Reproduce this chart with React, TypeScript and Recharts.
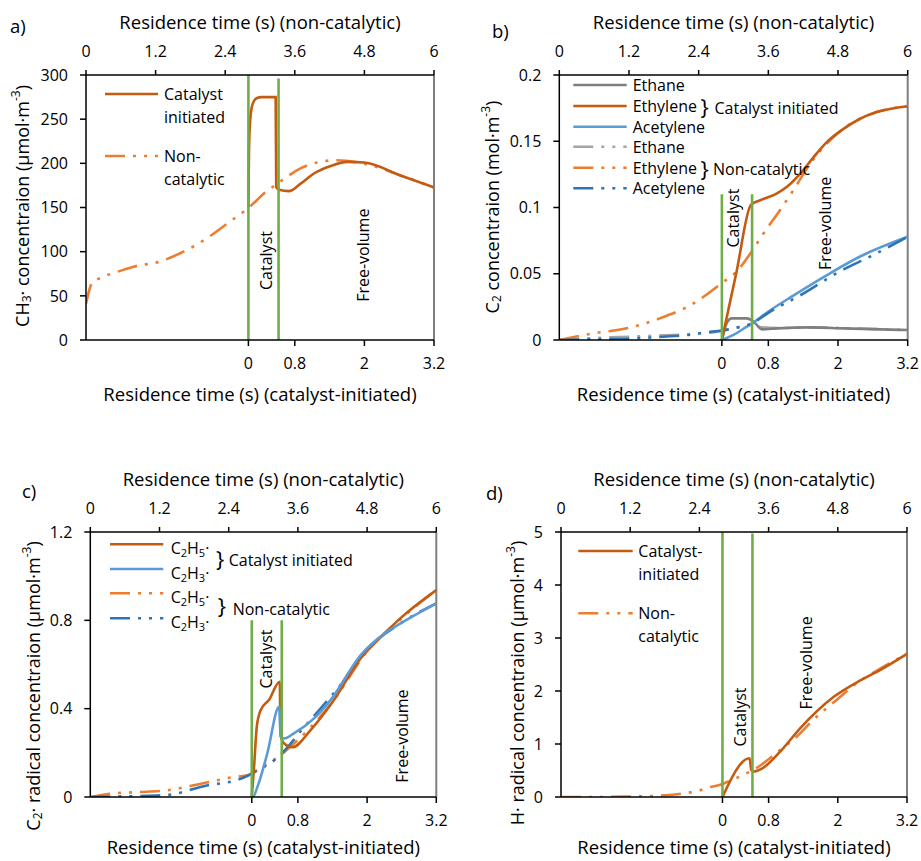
import React from 'react';
import { LineChart, Line, XAxis, YAxis, Legend, ReferenceLine, ReferenceDot } from 'recharts';

const FONT = '"Open Sans", "DejaVu Sans", sans-serif';
const C_CAT = '#C55A11';
const C_NON = '#ED7D31';
const C_BLUE_CAT = '#5B9BD5';
const C_BLUE_NON = '#2E75B6';
const C_GRAY_CAT = '#7F7F7F';
const C_GRAY_NON = '#A5A5A5';
const C_GREEN = '#70AD47';
const DASH = '20 8 3 8 3 8';

// ---- shared axes ----
const topTicks = [0, 1.2, 2.4, 3.6, 4.8, 6];
const topDomain = [0, 6];
const bottomTicks = [0, 0.8, 2, 3.2];
const bottomDomain = [-2.8, 3.2];
const catalystBounds = [0, 0.52];

// ---- panel a: CH3 ----
const aNonT = [0, 0.05, 0.1, 0.3, 0.53, 0.82, 1.28, 1.68, 2.08, 2.48, 2.79, 3.11, 3.34, 3.69, 4.03, 4.32, 4.84, 5.41, 6];
const aNonCH3 = [41, 55, 64, 71.6, 77, 83, 89, 100, 115, 134, 149, 168, 179, 194, 201.6, 203.5, 199, 186.6, 172.7];
const aCatT = [0, 0.01, 0.03, 0.06, 0.1, 0.15, 0.22, 0.47, 0.48, 0.53, 0.7, 0.9, 1.13, 1.42, 1.71, 2.0, 2.61, 3.2];
const aCatCH3 = [150, 215, 248, 264, 271, 274, 275, 275, 173, 170, 168.5, 177, 188.5, 197, 201.6, 201, 186.6, 172.7];
const aYTicks = [0, 50, 100, 150, 200, 250, 300];

// ---- panel b: C2 species ----
const bNonEthaneT = [0, 0.6, 1.2, 1.8, 2.4, 2.8, 3.05, 3.3, 3.5, 3.8, 4.4, 5, 6];
const bNonEthane = [0, 0.0015, 0.0025, 0.0035, 0.0048, 0.0068, 0.0095, 0.0115, 0.0095, 0.009, 0.0095, 0.0088, 0.0075];
const bNonEthyleneT = [0, 0.585, 1.16, 1.73, 2.31, 2.8, 3.05, 3.31, 3.51, 3.8, 4.03, 4.32, 4.6, 4.89, 5.18, 5.46, 6];
const bNonEthylene = [0, 0.005, 0.0088, 0.0163, 0.0276, 0.043, 0.0515, 0.0666, 0.08, 0.098, 0.113, 0.133, 0.148, 0.1595, 0.167, 0.172, 0.1764];
const bNonAcetyleneT = [0, 0.6, 1.2, 1.8, 2.2, 2.53, 2.8, 3.05, 3.32, 3.6, 4.2, 4.8, 5.4, 6];
const bNonAcetylene = [0, 0.0005, 0.001, 0.0025, 0.0038, 0.0058, 0.0072, 0.0092, 0.0126, 0.0205, 0.035, 0.051, 0.064, 0.0779];
const bCatEthaneT = [0, 0.086, 0.17, 0.43, 0.55, 0.69, 0.95, 1.52, 2.1, 3.2];
const bCatEthane = [0, 0.013, 0.0163, 0.0163, 0.0138, 0.008, 0.0088, 0.0095, 0.0088, 0.0075];
const bCatEthyleneT = [0, 0.25, 0.5, 0.66, 0.95, 1.12, 1.35, 1.58, 1.81, 2.1, 2.38, 2.67, 3.2];
const bCatEthylene = [0, 0.051, 0.102, 0.1055, 0.1106, 0.1156, 0.1256, 0.138, 0.1495, 0.1595, 0.167, 0.172, 0.1764];
const bCatAcetyleneT = [0, 0.2, 0.37, 0.52, 0.77, 1.23, 1.81, 2.38, 3.2];
const bCatAcetylene = [0, 0.0038, 0.0085, 0.0126, 0.0206, 0.0335, 0.049, 0.063, 0.0779];
const bYTicks = [0, 0.05, 0.1, 0.15, 0.2];

// ---- panel c: C2 radicals ----
const cNonC2H5T = [0, 0.34, 0.8, 1.32, 2.02, 2.48, 2.74, 3.0, 3.3, 3.5, 3.8, 4.2, 4.8, 5.4, 6];
const cNonC2H5 = [0, 0.015, 0.022, 0.03, 0.066, 0.09, 0.1, 0.14, 0.19, 0.235, 0.31, 0.43, 0.66, 0.81, 0.937];
const cNonC2H3T = [0, 0.6, 1.32, 2.02, 2.54, 2.72, 2.91, 3.23, 3.38, 3.5, 3.64, 3.87, 4.5, 4.8, 5.38, 6];
const cNonC2H3 = [0, 0.003, 0.009, 0.052, 0.077, 0.095, 0.122, 0.175, 0.213, 0.25, 0.296, 0.364, 0.56, 0.666, 0.786, 0.877];
const cCatC2H5T = [0, 0.04, 0.087, 0.156, 0.3, 0.485, 0.5, 0.56, 0.705, 1.02, 1.4, 1.89, 2.3, 2.58, 3.2];
const cCatC2H5 = [0, 0.137, 0.318, 0.394, 0.44, 0.522, 0.28, 0.243, 0.225, 0.303, 0.43, 0.628, 0.74, 0.81, 0.937];
const cCatC2H3T = [0, 0.02, 0.1, 0.27, 0.475, 0.5, 0.56, 0.73, 1.08, 1.37, 1.89, 2.3, 2.58, 3.2];
const cCatC2H3 = [0, 0, 0.047, 0.198, 0.409, 0.273, 0.265, 0.288, 0.356, 0.44, 0.643, 0.74, 0.786, 0.877];
const cYTicks = [0, 0.4, 0.8, 1.2];

// ---- panel d: H radical ----
const dNonT = [0, 0.6, 1.2, 1.8, 2.2, 2.4, 2.55, 2.76, 2.96, 3.16, 3.45, 3.62, 3.8, 4.09, 4.37, 4.81, 5.13, 5.5, 6];
const dNonH = [0, 0, 0.01, 0.03, 0.08, 0.12, 0.18, 0.23, 0.32, 0.415, 0.59, 0.73, 0.887, 1.14, 1.45, 1.86, 2.15, 2.4, 2.7];
const dCatT = [0, 0.47, 0.5, 0.54, 0.69, 1.0, 1.35, 1.93, 2.39, 2.74, 3.2];
const dCatH = [0, 0.73, 0.51, 0.48, 0.54, 0.855, 1.3, 1.89, 2.2, 2.4, 2.7];
const dYTicks = [0, 1, 2, 3, 4, 5];

const zip = (xs: number[], ys: number[]) => xs.map((x, i) => ({ x, y: ys[i] }));

type Seg = { t: string; sub?: boolean; sup?: boolean };
type SeriesDef = { key: string; axis: 'top' | 'bottom'; xs: number[]; ys: number[]; color: string; dashed: boolean };
type LegendRow = { y: number; color: string; dashed: boolean; lines: Seg[][]; textDy?: number };
type PanelDef = {
  id: string;
  tag: string;
  tagPos: [number, number];
  quad: { x: number; y: number; w: number; h: number };
  plot: { x1: number; y1: number; x2: number; y2: number };
  bottomTitleGap: number;
  yDomain: number[];
  yTicks: number[];
  yTitle: Seg[];
  yTitlePos: [number, number];
  series: SeriesDef[];
  greenTops: number[];
  annotations: { text: string; x: number; y: number }[];
  legendRows: LegendRow[];
  sampleX: [number, number];
  textX: number;
  braces: { x: number; y: number; textX: number; textY: number; text: string }[];
};

const renderSegs = (segs: Seg[], small = 12) => {
  const out: React.ReactNode[] = [];
  let shift = 0;
  segs.forEach((s, i) => {
    const target = s.sub ? 4 : s.sup ? -7 : 0;
    const dy = target - shift;
    shift = target;
    out.push(
      <tspan key={i} dy={dy} fontSize={s.sub || s.sup ? small : undefined}>
        {s.t}
      </tspan>
    );
  });
  return out;
};

const panels: PanelDef[] = [
  {
    id: 'a',
    tag: 'a)',
    tagPos: [10, 33],
    quad: { x: 0, y: 0, w: 460, h: 420 },
    plot: { x1: 86, y1: 75, x2: 434, y2: 340 },
    bottomTitleGap: 61,
    yDomain: [0, 300],
    yTicks: aYTicks,
    yTitle: [{ t: 'CH' }, { t: '3', sub: true }, { t: '· concentraion (µmol·m' }, { t: '-3', sup: true }, { t: ')' }],
    yTitlePos: [22, 206],
    series: [
      { key: 'aNon', axis: 'top', xs: aNonT, ys: aNonCH3, color: C_NON, dashed: true },
      { key: 'aCat', axis: 'bottom', xs: aCatT, ys: aCatCH3, color: C_CAT, dashed: false },
    ],
    greenTops: [300, 296],
    annotations: [
      { text: 'Catalyst', x: 0.3, y: 90 },
      { text: 'Free-volume', x: 1.98, y: 96 },
    ],
    legendRows: [
      { y: 94, color: C_CAT, dashed: false, lines: [[{ t: 'Catalyst' }], [{ t: 'initiated' }]] },
      { y: 156, color: C_NON, dashed: true, lines: [[{ t: 'Non-' }], [{ t: 'catalytic' }]] },
    ],
    sampleX: [105, 158],
    textX: 164,
    braces: [],
  },
  {
    id: 'b',
    tag: 'b)',
    tagPos: [492, 38],
    quad: { x: 460, y: 0, w: 461, h: 420 },
    plot: { x1: 559.3, y1: 75, x2: 907.7, y2: 340 },
    bottomTitleGap: 61,
    yDomain: [0, 0.2],
    yTicks: bYTicks,
    yTitle: [{ t: 'C' }, { t: '2', sub: true }, { t: ' concentraion (mol·m' }, { t: '-3', sup: true }, { t: ')' }],
    yTitlePos: [492, 207],
    series: [
      { key: 'bNonEthane', axis: 'top', xs: bNonEthaneT, ys: bNonEthane, color: C_GRAY_NON, dashed: true },
      { key: 'bNonEthylene', axis: 'top', xs: bNonEthyleneT, ys: bNonEthylene, color: C_NON, dashed: true },
      { key: 'bCatEthane', axis: 'bottom', xs: bCatEthaneT, ys: bCatEthane, color: C_GRAY_CAT, dashed: false },
      { key: 'bCatAcetylene', axis: 'bottom', xs: bCatAcetyleneT, ys: bCatAcetylene, color: C_BLUE_CAT, dashed: false },
      { key: 'bNonAcetylene', axis: 'top', xs: bNonAcetyleneT, ys: bNonAcetylene, color: C_BLUE_NON, dashed: true },
      { key: 'bCatEthylene', axis: 'bottom', xs: bCatEthyleneT, ys: bCatEthylene, color: C_CAT, dashed: false },
    ],
    greenTops: [0.11, 0.11],
    annotations: [
      { text: 'Catalyst', x: 0.2, y: 0.092 },
      { text: 'Free-volume', x: 1.77, y: 0.088 },
    ],
    legendRows: [
      { y: 85, color: C_GRAY_CAT, dashed: false, lines: [[{ t: 'Ethane' }]] },
      { y: 106, color: C_CAT, dashed: false, lines: [[{ t: 'Ethylene' }]] },
      { y: 126.7, color: C_BLUE_CAT, dashed: false, lines: [[{ t: 'Acetylene' }]] },
      { y: 146.7, color: C_GRAY_NON, dashed: true, lines: [[{ t: 'Ethane' }]] },
      { y: 167.7, color: C_NON, dashed: true, lines: [[{ t: 'Ethylene' }]] },
      { y: 188.3, color: C_BLUE_NON, dashed: true, lines: [[{ t: 'Acetylene' }]] },
    ],
    sampleX: [573.3, 626.7],
    textX: 632.7,
    braces: [
      { x: 700.5, y: 106, textX: 714.5, textY: 107.7, text: 'Catalyst initiated' },
      { x: 700.5, y: 167.7, textX: 713, textY: 169.3, text: 'Non-catalytic' },
    ],
  },
  {
    id: 'c',
    tag: 'c)',
    tagPos: [22, 498],
    quad: { x: 0, y: 420, w: 460, h: 441 },
    plot: { x1: 90.3, y1: 532, x2: 436.3, y2: 797 },
    bottomTitleGap: 57,
    yDomain: [0, 1.2],
    yTicks: cYTicks,
    yTitle: [{ t: 'C' }, { t: '2', sub: true }, { t: '· radical concentraion (µmol·m' }, { t: '-3', sup: true }, { t: ')' }],
    yTitlePos: [33, 686],
    series: [
      { key: 'cNonC2H5', axis: 'top', xs: cNonC2H5T, ys: cNonC2H5, color: C_NON, dashed: true },
      { key: 'cNonC2H3', axis: 'top', xs: cNonC2H3T, ys: cNonC2H3, color: C_BLUE_NON, dashed: true },
      { key: 'cCatC2H5', axis: 'bottom', xs: cCatC2H5T, ys: cCatC2H5, color: C_CAT, dashed: false },
      { key: 'cCatC2H3', axis: 'bottom', xs: cCatC2H3T, ys: cCatC2H3, color: C_BLUE_CAT, dashed: false },
    ],
    greenTops: [0.8, 0.8],
    annotations: [
      { text: 'Catalyst', x: 0.24, y: 0.625 },
      { text: 'Free-volume', x: 2.61, y: 0.276 },
    ],
    legendRows: [
      { y: 544.3, color: C_CAT, dashed: false, textDy: 4, lines: [[{ t: 'C' }, { t: '2', sub: true }, { t: 'H' }, { t: '5', sub: true }, { t: '·' }]] },
      { y: 569, color: C_BLUE_CAT, dashed: false, textDy: 4, lines: [[{ t: 'C' }, { t: '2', sub: true }, { t: 'H' }, { t: '3', sub: true }, { t: '·' }]] },
      { y: 593.3, color: C_NON, dashed: true, textDy: 4, lines: [[{ t: 'C' }, { t: '2', sub: true }, { t: 'H' }, { t: '5', sub: true }, { t: '·' }]] },
      { y: 618.3, color: C_BLUE_NON, dashed: true, textDy: 4, lines: [[{ t: 'C' }, { t: '2', sub: true }, { t: 'H' }, { t: '3', sub: true }, { t: '·' }]] },
    ],
    sampleX: [110, 163.3],
    textX: 170.7,
    braces: [
      { x: 216, y: 558, textX: 228.7, textY: 560, text: 'Catalyst initiated' },
      { x: 217.7, y: 605, textX: 232.7, textY: 609, text: 'Non-catalytic' },
    ],
  },
  {
    id: 'd',
    tag: 'd)',
    tagPos: [486, 500],
    quad: { x: 460, y: 420, w: 461, h: 441 },
    plot: { x1: 561, y1: 532, x2: 907, y2: 797 },
    bottomTitleGap: 57,
    yDomain: [0, 5],
    yTicks: dYTicks,
    yTitle: [{ t: 'H· radical concentraion (µmol·m' }, { t: '-3', sup: true }, { t: ')' }],
    yTitlePos: [517, 683],
    series: [
      { key: 'dNon', axis: 'top', xs: dNonT, ys: dNonH, color: C_NON, dashed: true },
      { key: 'dCat', axis: 'bottom', xs: dCatT, ys: dCatH, color: C_CAT, dashed: false },
    ],
    greenTops: [5, 4.97],
    annotations: [
      { text: 'Catalyst', x: 0.31, y: 1.51 },
      { text: 'Free-volume', x: 1.44, y: 2.53 },
    ],
    legendRows: [
      { y: 551, color: C_CAT, dashed: false, lines: [[{ t: 'Catalyst-' }], [{ t: 'initiated' }]] },
      { y: 613.3, color: C_NON, dashed: true, lines: [[{ t: 'Non-' }], [{ t: 'catalytic' }]] },
    ],
    sampleX: [578.3, 632.7],
    textX: 638.3,
    braces: [],
  },
];

const axisLine = { stroke: '#000', strokeWidth: 1.5 };
const tickStyle = { fontSize: 16, fill: '#000' };
const titleStyle: React.CSSProperties = { fontSize: 18.5, fill: '#000' };

function Panel({ def }: { def: PanelDef }) {
  const { quad, plot } = def;
  const ox = quad.x;
  const oy = quad.y;
  const margin = {
    left: plot.x1 - ox - 60,
    top: plot.y1 - oy - 30,
    right: ox + quad.w - plot.x2,
    bottom: oy + quad.h - plot.y2 - 30,
  };
  const cx = (plot.x1 + plot.x2) / 2 - ox;
  const topTitle = () => (
    <text x={cx} y={plot.y1 - 46 - oy} textAnchor="middle" style={titleStyle}>
      Residence time (s) (non-catalytic)
    </text>
  );
  const bottomTitle = () => (
    <text x={cx} y={plot.y2 + def.bottomTitleGap - oy} textAnchor="middle" style={titleStyle}>
      Residence time (s) (catalyst-initiated)
    </text>
  );
  const yx = def.yTitlePos[0] - ox;
  const yy = def.yTitlePos[1] - oy;
  const yTitle = () => (
    <text
      x={yx}
      y={yy}
      textAnchor="middle"
      dominantBaseline="central"
      transform={`rotate(-90, ${yx}, ${yy})`}
      style={{ fontSize: 18, fill: '#000' }}
    >
      {renderSegs(def.yTitle)}
    </text>
  );

  const legendContent = () => (
    <svg width={quad.w} height={quad.h} style={{ position: 'absolute', left: 0, top: 0, overflow: 'visible' }}>
      <text x={def.tagPos[0] - ox} y={def.tagPos[1] - oy} style={{ fontSize: 18.5, fill: '#000' }}>
        {def.tag}
      </text>
      {def.legendRows.map((r, i) => (
        <g key={i}>
          <line
            x1={def.sampleX[0] - ox}
            x2={def.sampleX[1] - ox}
            y1={r.y - oy}
            y2={r.y - oy}
            stroke={r.color}
            strokeWidth={2.5}
            strokeDasharray={r.dashed ? DASH : undefined}
          />
          {r.lines.map((ln, j) => (
            <text
              key={j}
              x={def.textX - ox}
              y={r.y - oy + j * 23 + (r.textDy || 0)}
              dominantBaseline="central"
              style={{ fontSize: 16, fill: '#000' }}
            >
              {renderSegs(ln, 11)}
            </text>
          ))}
        </g>
      ))}
      {def.braces.map((b, i) => (
        <g key={'b' + i}>
          <text x={b.x - ox} y={b.y - oy} dominantBaseline="central" style={{ fontSize: 22, fill: '#000' }}>
            {'}'}
          </text>
          <text x={b.textX - ox} y={b.textY - oy} dominantBaseline="central" style={{ fontSize: 16, fill: '#000' }}>
            {b.text}
          </text>
        </g>
      ))}
    </svg>
  );

  return (
    <div style={{ position: 'absolute', left: quad.x, top: quad.y, fontFamily: FONT }}>
      <LineChart width={quad.w} height={quad.h} margin={margin}>
        <XAxis
          xAxisId="top"
          orientation="top"
          type="number"
          dataKey="x"
          domain={topDomain}
          ticks={topTicks}
          interval={0}
          allowDataOverflow
          height={30}
          tickSize={5}
          tickMargin={13}
          tick={tickStyle}
          axisLine={axisLine}
          tickLine={axisLine}
          label={topTitle}
        />
        <XAxis
          xAxisId="bottom"
          orientation="bottom"
          type="number"
          dataKey="x"
          domain={bottomDomain}
          ticks={bottomTicks}
          interval={0}
          allowDataOverflow
          height={30}
          tickSize={6}
          tickMargin={12}
          tick={tickStyle}
          axisLine={axisLine}
          tickLine={axisLine}
          label={bottomTitle}
        />
        <YAxis
          type="number"
          domain={def.yDomain}
          ticks={def.yTicks}
          interval={0}
          allowDataOverflow
          width={60}
          tickSize={6}
          tickMargin={12}
          tick={tickStyle}
          axisLine={axisLine}
          tickLine={axisLine}
          label={yTitle}
        />
        <ReferenceLine xAxisId="top" x={6} stroke="#7F7F7F" strokeWidth={2} ifOverflow="visible" />
        {def.series.map((s) => (
          <Line
            key={s.key}
            xAxisId={s.axis}
            data={zip(s.xs, s.ys)}
            dataKey="y"
            type="monotone"
            stroke={s.color}
            strokeWidth={2.6}
            strokeDasharray={s.dashed ? DASH : undefined}
            dot={false}
            activeDot={false}
            isAnimationActive={false}
          />
        ))}
        {catalystBounds.map((b, i) => (
          <Line
            key={'g' + i}
            xAxisId="bottom"
            data={[
              { x: b, y: def.yDomain[0] },
              { x: b, y: def.greenTops[i] },
            ]}
            dataKey="y"
            type="linear"
            stroke={C_GREEN}
            strokeWidth={2.6}
            dot={false}
            activeDot={false}
            isAnimationActive={false}
          />
        ))}
        {def.annotations.map((a, i) => (
          <ReferenceDot
            key={'an' + i}
            xAxisId="bottom"
            x={a.x}
            y={a.y}
            r={0}
            shape={(p: any) => (
              <text
                x={p.cx}
                y={p.cy}
                textAnchor="middle"
                dominantBaseline="central"
                transform={`rotate(-90, ${p.cx}, ${p.cy})`}
                style={{ fontSize: 16, fill: '#000' }}
              >
                {a.text}
              </text>
            )}
          />
        ))}
        <Legend
          layout="vertical"
          align="center"
          verticalAlign="middle"
          width={quad.w}
          height={quad.h}
          wrapperStyle={{ left: 0, top: 0, pointerEvents: 'none' }}
          content={legendContent}
        />
      </LineChart>
    </div>
  );
}

export default function App() {
  return (
    <div style={{ position: 'relative', width: 921, height: 861, background: '#fff', overflow: 'hidden' }}>
      <style>{'body{margin:0;background:#fff;}'}</style>
      {panels.map((p) => (
        <Panel key={p.id} def={p} />
      ))}
    </div>
  );
}
